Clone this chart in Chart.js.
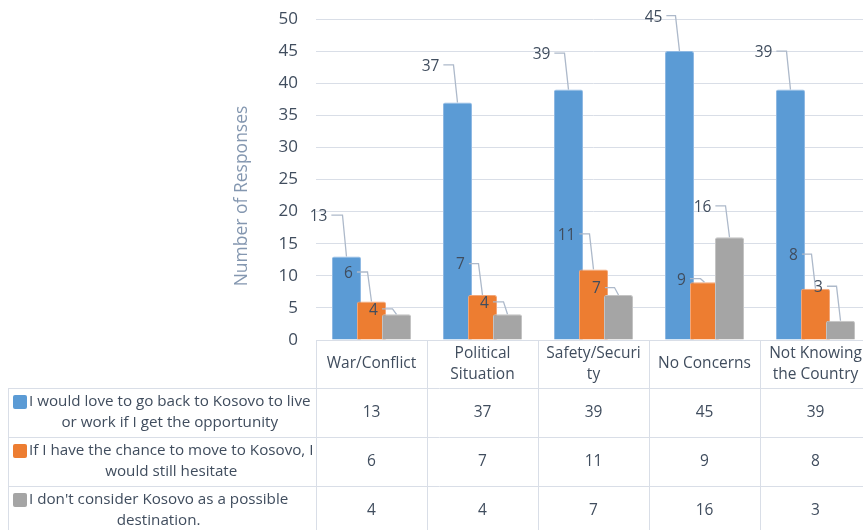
<!DOCTYPE html>
<html>
<head>
<meta charset="utf-8">
<script src="https://cdn.jsdelivr.net/npm/chart.js@4/dist/chart.umd.min.js"></script>
<style>
  html, body { margin: 0; padding: 0; background: #fff; overflow: hidden; }
  #wrap { width: 863px; height: 530px; overflow: hidden; position: relative; }
  #c { position: absolute; left: 0; top: 0; }
</style>
</head>
<body>
<div id="wrap"><canvas id="c" width="880" height="530"></canvas></div>
<script>
// ---- data ----
const categories = ['War/Conflict', 'Political Situation', 'Safety/Security', 'No Concerns', 'Not Knowing the Country'];
const categoryHeaderLines = [['War/Conflict'], ['Political', 'Situation'], ['Safety/Securi', 'ty'], ['No Concerns'], ['Not Knowing', 'the Country']];
const seriesNames = [
  'I would love to go back to Kosovo to live or work if I get the opportunity',
  'If I have the chance to move to Kosovo, I would still hesitate',
  "I don't consider Kosovo as a possible destination."
];
const seriesNameLines = [
  ['I would love to go back to Kosovo to live', 'or work if I get the opportunity'],
  ['If I have the chance to move to Kosovo, I', 'would still hesitate'],
  ["I don't consider Kosovo as a possible", 'destination.']
];
const loveToGoBack = [13, 37, 39, 45, 39];
const wouldHesitate = [6, 7, 11, 9, 8];
const notConsidering = [4, 4, 7, 16, 3];
const yMin = 0, yMax = 50, yStep = 5;
const yTitle = 'Number of Responses';

// ---- styling ----
const FONT = "'Open Sans', 'DejaVu Sans', sans-serif";
const TEXT = '#404D5E';
const GRID = '#D9DEE7';
const colors = ['#5B9BD5', '#ED7D31', '#A5A5A5'];
const edgeColors = ['#8FB9E3', '#F3A779', '#C4C4C4'];
// label placement (dx, dy from bar top centre) for the callout labels
const labelOffsets = [
  [[-28, -40], [-27, -36], [-27, -35], [-26, -34], [-27, -37]],
  [[-23, -28], [-22, -30], [-27, -34], [-23, -2], [-22, -33]],
  [[-23, -4], [-23, -11], [-22, -6], [-27, -30], [-22, -33]]
];

// draw datasets left to right so later bars overlap earlier ones
const forwardDraw = {
  id: 'forwardDraw',
  beforeDatasetsDraw(chart) {
    const metas = chart.getSortedVisibleDatasetMetas();
    for (const m of metas) m.controller.draw();
    return false;
  }
};

// rotated value-axis title
const axisTitle = {
  id: 'axisTitle',
  afterDraw(chart) {
    const ctx = chart.ctx;
    ctx.save();
    ctx.translate(242, 196);
    ctx.rotate(-Math.PI / 2);
    ctx.font = '17.5px ' + FONT;
    ctx.fillStyle = '#8497B0';
    ctx.textAlign = 'center';
    ctx.textBaseline = 'middle';
    ctx.fillText(yTitle, 0, 0);
    ctx.restore();
  }
};

// data table under the plot
const dataTable = {
  id: 'dataTable',
  afterDraw(chart) {
    const ctx = chart.ctx;
    const xs = chart.scales.x;
    const area = chart.chartArea;
    const half = (xs.getPixelForValue(1) - xs.getPixelForValue(0)) / 2;
    const bounds = categories.map((_, i) => xs.getPixelForValue(i) - half);
    bounds.push(xs.getPixelForValue(categories.length - 1) + half);
    const top = area.bottom;
    const rows = [top, top + 48, top + 97, top + 146, top + 195];
    const tableLeft = 8;
    ctx.save();
    ctx.strokeStyle = GRID;
    ctx.lineWidth = 1;
    ctx.beginPath();
    // horizontal rules
    ctx.moveTo(bounds[0], Math.round(top) + 0.5); ctx.lineTo(bounds[bounds.length - 1], Math.round(top) + 0.5);
    for (let r = 1; r < 4; r++) {
      ctx.moveTo(tableLeft, Math.round(rows[r]) + 0.5);
      ctx.lineTo(bounds[bounds.length - 1], Math.round(rows[r]) + 0.5);
    }
    // vertical rules
    bounds.forEach(b => { ctx.moveTo(Math.round(b) + 0.5, top); ctx.lineTo(Math.round(b) + 0.5, 530); });
    ctx.moveTo(tableLeft + 0.5, rows[1]); ctx.lineTo(tableLeft + 0.5, 530);
    ctx.stroke();

    ctx.fillStyle = TEXT;
    ctx.textAlign = 'center';
    ctx.textBaseline = 'middle';
    ctx.font = '15.5px ' + FONT;
    // header
    categoryHeaderLines.forEach((lines, i) => {
      const cx = xs.getPixelForValue(i);
      const cy = (rows[0] + rows[1]) / 2;
      const n = lines.length;
      lines.forEach((t, k) => ctx.fillText(t, cx, cy + (k - (n - 1) / 2) * 21));
    });
    // values
    const series = [loveToGoBack, wouldHesitate, notConsidering];
    series.forEach((vals, r) => {
      const cy = (rows[r + 1] + rows[r + 2]) / 2;
      ctx.font = '15.5px ' + FONT;
      ctx.fillStyle = TEXT;
      vals.forEach((v, i) => ctx.fillText(String(v), xs.getPixelForValue(i), cy));
      // legend key + series name
      const lines = seriesNameLines[r];
      const y1 = cy - 10.5, y2 = cy + 10.5;
      ctx.fillStyle = colors[r];
      ctx.beginPath();
      ctx.roundRect(13, y1 - 7, 14, 14, 2);
      ctx.fill();
      ctx.fillStyle = TEXT;
      ctx.font = '15.2px ' + FONT;
      const blockW = Math.max(...lines.map(t => ctx.measureText(t).width));
      const cx = 29 + blockW / 2;
      ctx.fillText(lines[0], cx, y1);
      ctx.fillText(lines[1], cx, y2);
    });
    ctx.restore();
  }
};

// callout value labels with leader lines
const calloutLabels = {
  id: 'calloutLabels',
  afterDraw(chart) {
    const ctx = chart.ctx;
    ctx.save();
    ctx.font = '15.5px ' + FONT;
    ctx.textBaseline = 'middle';
    ctx.textAlign = 'center';
    chart.data.datasets.forEach((ds, di) => {
      const meta = chart.getDatasetMeta(di);
      meta.data.forEach((bar, i) => {
        const txt = String(ds.data[i]);
        const [dx, dy] = labelOffsets[di][i];
        const lx = bar.x + dx, ly = bar.y + dy;
        const w = ctx.measureText(txt).width;
        ctx.strokeStyle = '#ADB9CA';
        ctx.lineWidth = 1.3;
        ctx.beginPath();
        ctx.moveTo(lx + w / 2 + 4, ly - 1.5);
        ctx.lineTo(bar.x - 4, ly - 1.5);
        ctx.lineTo(bar.x, bar.y);
        ctx.stroke();
        ctx.fillStyle = TEXT;
        ctx.fillText(txt, lx, ly);
      });
    });
    ctx.restore();
  }
};

const seriesData = [loveToGoBack, wouldHesitate, notConsidering];
new Chart(document.getElementById('c'), {
  type: 'bar',
  data: {
    labels: categories,
    datasets: seriesNames.map((name, i) => ({
      label: name,
      data: seriesData[i],
      backgroundColor: colors[i],
      borderColor: edgeColors[i],
      borderWidth: 1,
      borderRadius: 2,
      categoryPercentage: 0.676,
      barPercentage: 1.16
    }))
  },
  options: {
    responsive: false,
    animation: false,
    layout: { padding: { top: 19, right: 9, bottom: 0, left: 0 } },
    plugins: { legend: { display: false }, tooltip: { enabled: false } },
    scales: {
      x: {
        grid: { display: false },
        ticks: { display: false },
        border: { display: false },
        afterFit(s) { s.height = 190; }
      },
      y: {
        min: yMin, max: yMax,
        ticks: { stepSize: yStep, padding: 18, color: TEXT, font: { family: FONT, size: 17 } },
        grid: { color: GRID, drawTicks: false, lineWidth: 1 },
        border: { display: false },
        title: { display: false },
        afterFit(s) {
          s.width = 316;
          s.paddingTop = 10;
          s.paddingBottom = 10;
        }
      }
    }
  },
  plugins: [forwardDraw, dataTable, axisTitle, calloutLabels]
});
</script>
</body>
</html>
